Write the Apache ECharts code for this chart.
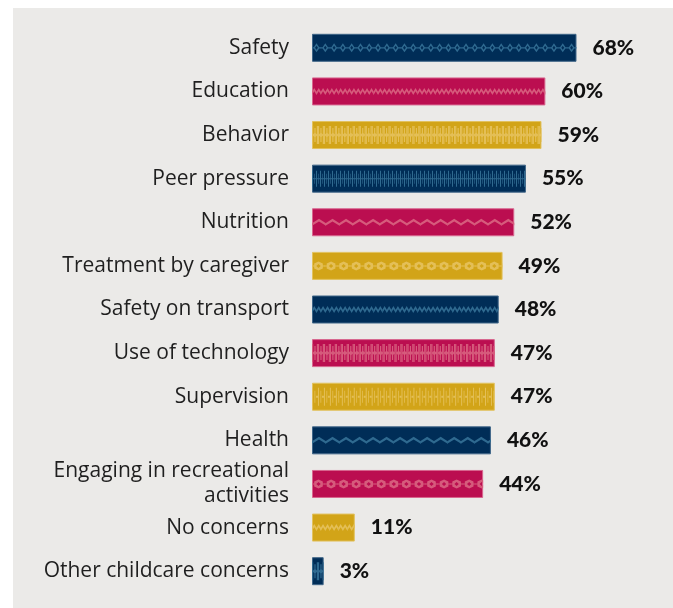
<!DOCTYPE html>
<html>
<head>
<meta charset="utf-8">
<script src="https://cdn.jsdelivr.net/npm/echarts@6/dist/echarts.min.js"></script>
<style>
  html, body { margin: 0; padding: 0; background: #ffffff; }
  #chart { width: 673px; height: 608px; }
</style>
</head>
<body>
<div id="chart"></div>
<script>
// Share of respondents naming each childcare concern (%)
const categories = [
  'Safety', 'Education', 'Behavior', 'Peer pressure', 'Nutrition',
  'Treatment by caregiver', 'Safety on transport', 'Use of technology',
  'Supervision', 'Health', 'Engaging in recreational\nactivities',
  'No concerns', 'Other childcare concerns'
];
const values = [68, 60, 59, 55, 52, 49, 48, 47, 47, 46, 44, 11, 3];

// Bar colours cycle navy / crimson / gold; each has a lighter tone for its woven motif
const palette = [
  { base: '#002d57', edge: '#3f6688', motif: '#2f6a90' },
  { base: '#bb0e50', edge: '#d8668e', motif: '#d65b7c' },
  { base: '#d2a418', edge: '#e2c25e', motif: '#e4bf57' }
];

// Motif shapes, repeated along each bar
const motifs = {
  chain:   { path: 'path://M0,4 L2,4 L5,1 L8,4 L10,4 L10,5 L8,5 L5,8 L2,5 L0,5 Z M3.4,4.5 L5,6.1 L6.6,4.5 L5,2.9 Z', size: [9, 9] },
  wave:    { path: 'path://M0,4 L2.5,0.5 L5,4 L7.5,0.5 L10,4 L10,7 L7.5,3.5 L5,7 L2.5,3.5 L0,7 Z', size: [9, 7] },
  zigzag:  { path: 'path://M0,5 L7,0 L14,5 L14,8 L7,3 L0,8 Z', size: [14, 7] },
  figures: { path: 'path://M0,0 L1,0 L1,18 L0,18 Z M2,2 L3,2 L3,7 L4.5,9 L3,11 L3,16 L2,16 L2,11 L0.5,9 L2,7 Z M4,0 L5,0 L5,18 L4,18 Z', size: [6, 18] },
  texture: { path: 'path://M0,0 L1,0 L1,16 L0,16 Z M2,3 L2.6,3 L2.6,13 L2,13 Z M0,7.5 L4,7.5 L4,8.5 L0,8.5 Z', size: [4, 16] },
  diamond: { path: 'path://M0,4 L2,4 L2,2 L6,0 L10,2 L10,4 L12,4 L12,5 L10,5 L10,7 L6,9 L2,7 L2,5 L0,5 Z M4,4.5 L6,6.5 L8,4.5 L6,2.5 Z', size: [13, 9] },
  stripes: { path: 'path://M0,0 L1,0 L1,18 L0,18 Z M2.5,3 L3.3,3 L3.3,15 L2.5,15 Z M4,8 L6,8 L6,10 L4,10 Z', size: [6, 18] }
};
const motifOrder = ['chain', 'wave', 'figures', 'texture', 'zigzag', 'diamond', 'wave',
  'figures', 'stripes', 'zigzag', 'diamond', 'wave', 'figures'];

const chart = echarts.init(document.getElementById('chart'), null, { renderer: 'canvas' });

const barData = values.map((v, i) => {
  const c = palette[i % 3];
  return {
    value: v,
    itemStyle: { color: c.base, borderColor: c.edge, borderWidth: 1 }
  };
});

const motifData = values.map((v, i) => {
  const c = palette[i % 3];
  const m = motifs[motifOrder[i]];
  return {
    value: v,
    symbol: m.path,
    symbolSize: m.size,
    itemStyle: { color: c.motif }
  };
});

chart.setOption({
  animation: false,
  backgroundColor: '#ffffff',
  graphic: [{
    type: 'rect',
    left: 13, top: 8,
    shape: { width: 660, height: 600 },
    style: { fill: '#ebeae8' },
    z: -10
  }],
  grid: { left: 312, right: 9, top: 26, bottom: 15, containLabel: false },
  xAxis: {
    type: 'value', min: 0, max: 90.5,
    show: false
  },
  yAxis: {
    type: 'category',
    data: categories,
    inverse: true,
    axisLine: { show: false },
    axisTick: { show: false },
    axisLabel: {
      margin: 23,
      color: '#1f1f1f',
      fontFamily: '"Open Sans", sans-serif',
      fontWeight: 'normal',
      fontSize: 21,
      lineHeight: 25
    }
  },
  series: [
    {
      type: 'bar',
      data: barData,
      barWidth: 28,
      z: 2,
      label: {
        show: true,
        position: 'right',
        distance: 16,
        formatter: p => p.value + '%',
        color: '#111111',
        fontFamily: 'Lato, sans-serif',
        fontWeight: 900,
        fontSize: 21
      }
    },
    {
      type: 'pictorialBar',
      data: motifData,
      barGap: '-100%',
      symbolRepeat: true,
      symbolClip: true,
      symbolMargin: 0,
      symbolPosition: 'start',
      z: 3,
      silent: true
    }
  ]
});
</script>
</body>
</html>
